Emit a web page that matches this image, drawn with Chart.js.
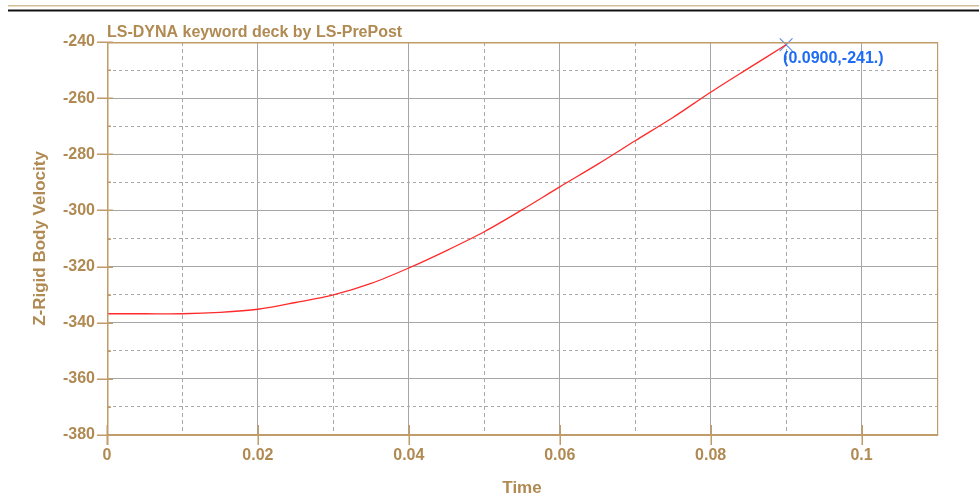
<!DOCTYPE html>
<html>
<head>
<meta charset="utf-8">
<title>Z-Rigid Body Velocity</title>
<script src="https://cdn.jsdelivr.net/npm/chart.js@4.4.1/dist/chart.umd.min.js"></script>
<style>
    html, body { margin: 0; padding: 0; background: #ffffff; }
    #wrap { width: 979px; height: 502px; position: relative; }
</style>
</head>
<body>
<div id="wrap"><canvas id="velocityChart"></canvas></div>
<script>
// values
const timeValues = [0, 0.005, 0.01, 0.015, 0.02, 0.025, 0.03, 0.035, 0.04, 0.045,
    0.05, 0.055, 0.06, 0.065, 0.07, 0.075, 0.08, 0.085, 0.09];
const velocityValues = [-336.8, -336.8, -336.8, -336.3, -335.2, -332.8, -330.1, -326.0, -320.5, -314.3,
    -307.6, -299.8, -291.6, -283.6, -275.2, -266.9, -257.9, -249.4, -241.0];
const markerPoint = { x: 0.09, y: -241 };
const markerLabel = "(0.0900,-241.)";
const chartTitle = "LS-DYNA keyword deck by LS-PrePost";
const xTitle = "Time";
const yTitle = "Z-Rigid Body Velocity";

const TAN = "#b08a52";
const FRAME = "#bf9c68";
const GRID = "#a6a6a6";
const FONT = "'Liberation Sans Narrow', 'Liberation Sans', Arial, sans-serif";

const isMajorX = v => Math.round(v * 100) % 2 === 0;
const isMajorY = v => Math.round(v) % 20 === 0;
const isEdgeX = v => v < 0.001 || v > 0.105;

document.addEventListener("DOMContentLoaded", function () {

    const framePlugin = {
        id: "frame",
        beforeDraw(chart) {
            const ctx = chart.ctx;
            ctx.save();
            // header rule
            ctx.fillStyle = "#d2bd94";
            ctx.fillRect(8, 5, chart.width - 8, 1.5);
            ctx.fillStyle = "#111111";
            ctx.fillRect(8, 9.5, chart.width - 8, 2);
            ctx.restore();
        },
        afterDraw(chart) {
            const { ctx, chartArea: a, scales } = chart;
            ctx.save();
            ctx.fillStyle = FRAME;
            ctx.fillRect(a.left, a.top, a.right - a.left + 1, 1.5);
            ctx.fillRect(a.left, a.top, 1.5, a.bottom - a.top + 10);
            ctx.fillRect(a.right, a.top, 1.2, a.bottom - a.top);
            ctx.fillRect(a.left, a.bottom - 1, a.right - a.left + 1.2, 2);
            // ticks on left axis
            scales.y.ticks.forEach(t => {
                const y = Math.round(scales.y.getPixelForValue(t.value));
                if (isMajorY(t.value)) {
                    ctx.fillRect(a.left - 10, y - 0.5, 16, 1.5);
                } else {
                    ctx.fillRect(a.left, y - 0.5, 4, 1.5);
                }
            });
            // ticks on bottom axis
            scales.x.ticks.forEach(t => {
                if (!isMajorX(t.value) || t.value > 0.105) return;
                const x = Math.round(scales.x.getPixelForValue(t.value));
                ctx.fillRect(x - 0.5, a.bottom - 10, 1.5, 20);
            });
            // title
            ctx.fillStyle = TAN;
            ctx.font = "bold 16px " + FONT;
            ctx.textBaseline = "alphabetic";
            ctx.textAlign = "left";
            ctx.fillText(chartTitle, a.left, a.top - 5);
            // marker label
            const px = scales.x.getPixelForValue(markerPoint.x);
            const py = scales.y.getPixelForValue(markerPoint.y);
            ctx.fillStyle = "#1e6cf5";
            ctx.textBaseline = "middle";
            ctx.fillText(markerLabel, px - 3, py + 14);
            ctx.restore();
        }
    };

    const curve = timeValues.map((t, i) => ({ x: t, y: velocityValues[i] }));

    new Chart(document.getElementById("velocityChart"), {
        type: "line",
        data: {
            datasets: [{
                data: curve,
                borderColor: "#ff2a2a",
                borderWidth: 1.3,
                pointRadius: 0,
                tension: 0.3,
                fill: false
            }, {
                data: [markerPoint],
                showLine: false,
                clip: false,
                pointStyle: "crossRot",
                pointRadius: 9,
                pointBorderColor: "#5b8fe8",
                pointBorderWidth: 1.2,
                borderColor: "#5b8fe8"
            }]
        },
        options: {
            responsive: true,
            maintainAspectRatio: false,
            animation: false,
            layout: { padding: { top: 42, right: 42, left: 0, bottom: 0 } },
            plugins: {
                legend: { display: false },
                tooltip: { enabled: false }
            },
            scales: {
                x: {
                    type: "linear",
                    min: 0,
                    max: 0.11,
                    afterFit: scale => { scale.height = 67; },
                    ticks: {
                        stepSize: 0.01,
                        autoSkip: false,
                        maxRotation: 0,
                        padding: 11,
                        color: TAN,
                        font: { family: FONT, size: 16, weight: "bold" },
                        callback: v => (isMajorX(v) && v < 0.105) ? String(+v.toFixed(2)) : ""
                    },
                    grid: {
                        color: c => !c.tick || isEdgeX(c.tick.value) ? "rgba(0,0,0,0)" : (isMajorX(c.tick.value) ? GRID : "#a9a9a9"),
                        lineWidth: 1,
                        drawTicks: false
                    },
                    border: {
                        display: false,
                        dash: c => (c.tick && !isMajorX(c.tick.value)) ? [4, 3] : []
                    },
                    title: {
                        display: true,
                        text: xTitle,
                        color: TAN,
                        font: { family: FONT, size: 17, weight: "bold" },
                        padding: { top: 0, bottom: 3 }
                    }
                },
                y: {
                    type: "linear",
                    min: -380,
                    max: -240,
                    afterFit: scale => { scale.width = 107; },
                    ticks: {
                        stepSize: 10,
                        autoSkip: false,
                        padding: 12,
                        color: TAN,
                        font: { family: FONT, size: 16, weight: "bold" },
                        callback: v => isMajorY(v) ? String(v) : ""
                    },
                    grid: {
                        color: c => c.tick && isMajorY(c.tick.value) ? GRID : "#a9a9a9",
                        lineWidth: 1,
                        drawTicks: false
                    },
                    border: {
                        display: false,
                        dash: c => (c.tick && !isMajorY(c.tick.value)) ? [3, 3] : []
                    },
                    title: {
                        display: true,
                        text: yTitle,
                        color: TAN,
                        font: { family: FONT, size: 17, weight: "bold" },
                        padding: { top: 30, bottom: 0 }
                    }
                }
            }
        },
        plugins: [framePlugin]
    });
});
</script>
</body>
</html>
